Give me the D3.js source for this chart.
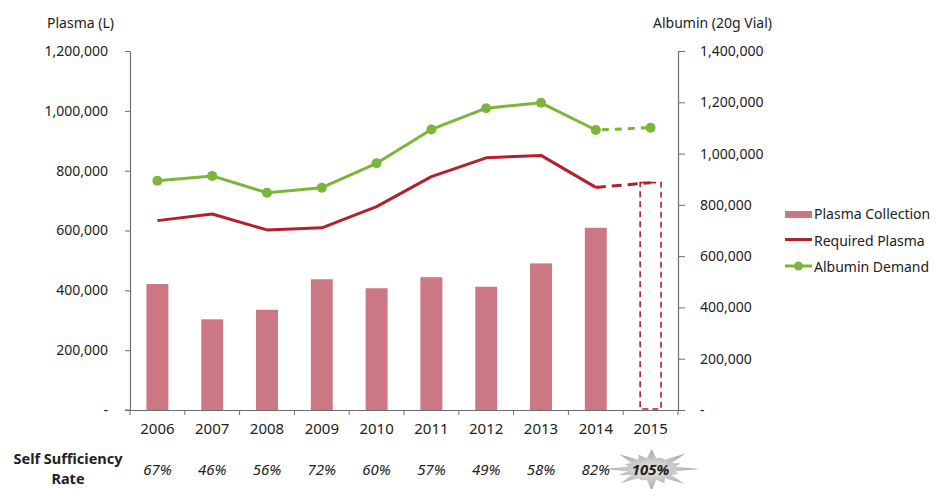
<!DOCTYPE html>
<html>
<head>
<meta charset="utf-8">
<script src="https://cdn.jsdelivr.net/npm/d3@7"></script>
<style>
  html, body { margin: 0; padding: 0; background: #fff; }
  svg { display: block; font-family: "Noto Sans", "Open Sans", sans-serif; }
</style>
</head>
<body>
<svg id="chart" width="937" height="489"></svg>
<script>
// Plasma supply and albumin demand, 2006-2015
const years = ["2006", "2007", "2008", "2009", "2010", "2011", "2012", "2013", "2014", "2015"];
const plasmaCollection = [421000, 303000, 335000, 437000, 407000, 444000, 412000, 490000, 609000, null];
const plannedCollection2015 = 760000;
const requiredPlasma = [633000, 655000, 602000, 609000, 680000, 780000, 843000, 851000, 744000, 760000];
const albuminDemand = [894000, 913000, 847000, 867000, 962000, 1094000, 1177000, 1198000, 1092000, 1101000];
const selfSufficiency = ["67%", "46%", "56%", "72%", "60%", "57%", "49%", "58%", "82%", "105%"];
const leftTicks = [0, 200000, 400000, 600000, 800000, 1000000, 1200000];
const rightTicks = [0, 200000, 400000, 600000, 800000, 1000000, 1200000, 1400000];

const svg = d3.select("#chart");
const plot = { left: 130, right: 678, top: 51, bottom: 410 };

const x = d3.scaleBand().domain(years).range([plot.left, plot.right]).padding(0);
const yL = d3.scaleLinear().domain([0, 1200000]).range([plot.bottom, plot.top]);
const yR = d3.scaleLinear().domain([0, 1400000]).range([plot.bottom, plot.top]);
const cx = d => x(d) + x.bandwidth() / 2;
const barW = x.bandwidth() * 0.4;

const fmt = v => v === 0 ? "-" : d3.format(",")(v);

const colors = { bar: "#cb7784", red: "#b3212e", green: "#7cb53c", axis: "#6e6e6e", text: "#222" };

// Left axis
const gL = svg.append("g").attr("transform", `translate(${plot.left},0)`)
  .call(d3.axisLeft(yL).tickValues(leftTicks).tickFormat(fmt).tickSize(5).tickPadding(17).tickSizeOuter(0));
// Right axis
const gR = svg.append("g").attr("transform", `translate(${plot.right},0)`)
  .call(d3.axisRight(yR).tickValues(rightTicks).tickFormat(fmt).tickSize(7).tickPadding(15).tickSizeOuter(0));
// Bottom axis: labels centred on bands
const gB = svg.append("g").attr("transform", `translate(0,${plot.bottom})`)
  .call(d3.axisBottom(x).tickSize(0).tickPadding(13).tickSizeOuter(0));
// Bottom tick marks sit on band boundaries
gB.selectAll(".bound").data(years.concat(["end"])).enter().append("line")
  .attr("class", "bound")
  .attr("x1", (d, i) => i < years.length ? x(d) : plot.right)
  .attr("x2", (d, i) => i < years.length ? x(d) : plot.right)
  .attr("y1", 0).attr("y2", 5)
  .attr("stroke", colors.axis);

[gL, gR, gB].forEach(g => {
  g.selectAll(".domain").attr("stroke", colors.axis).attr("stroke-width", 1.2);
  g.selectAll(".tick line").attr("stroke", colors.axis);
  g.selectAll("text").attr("font-size", 14).attr("fill", colors.text)
    .attr("font-family", "'Noto Sans', sans-serif");
});
gB.selectAll(".tick text").attr("font-size", 15);
// Left axis extends slightly below the baseline
gL.append("line").attr("x1", -5).attr("x2", 0).attr("y1", plot.bottom).attr("y2", plot.bottom).attr("stroke", colors.axis);

// Axis titles
svg.append("text").attr("x", 47).attr("y", 28).text("Plasma (L)")
  .attr("font-size", 14).attr("fill", colors.text);
svg.append("text").attr("x", 653).attr("y", 28).text("Albumin (20g Vial)")
  .attr("font-size", 14).attr("fill", colors.text);

// Plasma collection bars
svg.append("g").selectAll("rect").data(years.filter((d, i) => plasmaCollection[i] != null))
  .enter().append("rect")
  .attr("x", d => cx(d) - barW / 2)
  .attr("y", (d, i) => yL(plasmaCollection[i]))
  .attr("width", barW)
  .attr("height", (d, i) => plot.bottom - yL(plasmaCollection[i]))
  .attr("fill", colors.bar);

// Planned 2015 collection, dashed outline
svg.append("rect")
  .attr("x", cx("2015") - barW / 2 + 0.5)
  .attr("y", yL(plannedCollection2015))
  .attr("width", barW - 1)
  .attr("height", plot.bottom - yL(plannedCollection2015) - 1)
  .attr("fill", "none").attr("stroke", colors.red).attr("stroke-width", 1.6)
  .attr("stroke-dasharray", "6,4");

// Required plasma line (solid through 2014, dashed to 2015)
const lineL = d3.line().x(d => cx(d.year)).y(d => yL(d.v));
const redPts = years.map((y, i) => ({ year: y, v: requiredPlasma[i] }));
svg.append("path").datum(redPts.slice(0, 9)).attr("d", lineL)
  .attr("fill", "none").attr("stroke", colors.red).attr("stroke-width", 3).attr("stroke-linejoin", "round");
svg.append("path").datum(redPts.slice(8)).attr("d", lineL)
  .attr("fill", "none").attr("stroke", colors.red).attr("stroke-width", 3).attr("stroke-dasharray", "10,6");

// Albumin demand line on right axis
const lineR = d3.line().x(d => cx(d.year)).y(d => yR(d.v));
const greenPts = years.map((y, i) => ({ year: y, v: albuminDemand[i] }));
svg.append("path").datum(greenPts.slice(0, 9)).attr("d", lineR)
  .attr("fill", "none").attr("stroke", colors.green).attr("stroke-width", 3).attr("stroke-linejoin", "round");
svg.append("path").datum(greenPts.slice(8)).attr("d", lineR)
  .attr("fill", "none").attr("stroke", colors.green).attr("stroke-width", 3).attr("stroke-dasharray", "7,6")
  .attr("stroke-dashoffset", -6);
svg.append("g").selectAll("circle").data(greenPts).enter().append("circle")
  .attr("cx", d => cx(d.year)).attr("cy", d => yR(d.v)).attr("r", 5)
  .attr("fill", colors.green);

// Legend
const lg = svg.append("g").attr("transform", "translate(785,0)");
lg.append("rect").attr("x", 0).attr("y", 211).attr("width", 27).attr("height", 7).attr("fill", colors.bar);
lg.append("line").attr("x1", 0).attr("x2", 27).attr("y1", 239.5).attr("y2", 239.5)
  .attr("stroke", colors.red).attr("stroke-width", 3);
lg.append("line").attr("x1", 0).attr("x2", 27).attr("y1", 266).attr("y2", 266)
  .attr("stroke", colors.green).attr("stroke-width", 3);
lg.append("circle").attr("cx", 13.5).attr("cy", 266).attr("r", 4.5).attr("fill", colors.green);
const legendLabels = ["Plasma Collection", "Required Plasma", "Albumin Demand"];
lg.selectAll("text.leg").data(legendLabels).enter().append("text")
  .attr("class", "leg")
  .attr("x", 29).attr("y", (d, i) => 219 + i * 26.5)
  .attr("font-size", 14).attr("fill", colors.text).text(d => d);

// Self sufficiency row
svg.append("text").attr("x", 68).attr("y", 464).attr("text-anchor", "middle")
  .attr("font-size", 14.5).attr("font-weight", "bold").attr("fill", colors.text).text("Self Sufficiency");
svg.append("text").attr("x", 68).attr("y", 484).attr("text-anchor", "middle")
  .attr("font-size", 14.5).attr("font-weight", "bold").attr("fill", colors.text).text("Rate");

// Starburst behind the 2015 rate
const burstC = { x: cx("2015") + 1, y: 469 };
const spikes = [1.0, 0.6, 0.95, 0.7, 1.0, 0.55, 0.9, 0.75, 1.0, 0.6, 0.95, 0.7, 0.9, 0.55, 1.0, 0.65];
const burstPts = [];
const n = 16;
for (let i = 0; i < n * 2; i++) {
  const a = (i / (n * 2)) * Math.PI * 2;
  const r = i % 2 === 0 ? spikes[(i / 2) % spikes.length] : 0.5;
  burstPts.push([burstC.x + Math.cos(a) * 48 * r, burstC.y + Math.sin(a) * 22 * r]);
}
const grad = svg.append("defs").append("radialGradient").attr("id", "burst");
grad.append("stop").attr("offset", "0%").attr("stop-color", "#e8e8e8");
grad.append("stop").attr("offset", "100%").attr("stop-color", "#a6a6a6");
svg.append("polygon").attr("points", burstPts.map(p => p.join(",")).join(" "))
  .attr("fill", "url(#burst)");

svg.append("g").selectAll("text").data(years).enter().append("text")
  .attr("x", d => cx(d)).attr("y", 475).attr("text-anchor", "middle")
  .attr("font-size", 15).attr("font-style", "italic")
  .attr("font-weight", (d, i) => i === years.length - 1 ? "bold" : "normal")
  .attr("fill", colors.text)
  .text((d, i) => selfSufficiency[i]);
</script>
</body>
</html>
